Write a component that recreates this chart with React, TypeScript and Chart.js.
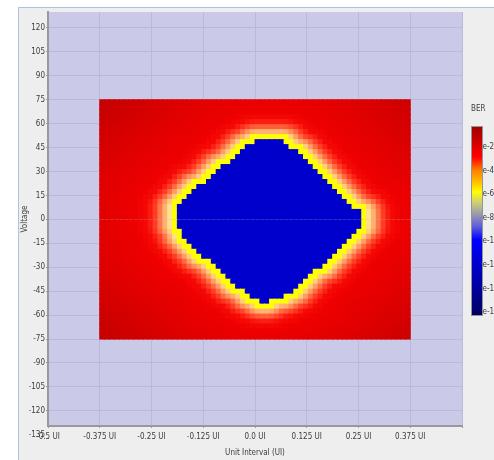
import React, { useEffect, useRef } from 'react';
import { Chart, registerables } from 'chart.js';

Chart.register(...registerables);

// ---- axis ticks ----
const xTickValues = [-0.5, -0.375, -0.25, -0.125, 0, 0.125, 0.25, 0.375, 0.5];
const xTickLabels = ['-0.5 UI', '-0.375 UI', '-0.25 UI', '-0.125 UI', '0.0 UI', '0.125 UI', '0.25 UI', '0.375 UI', ''];
const yTickValues = [120, 105, 90, 75, 60, 45, 30, 15, 0, -15, -30, -45, -60, -75, -90, -105, -120, -135];
const yTickLabels = ['120', '105', '90', '75', '60', '45', '30', '15', '0', '-15', '-30', '-45', '-60', '-75', '-90', '-105', '-120', '-135'];
const berLegendLabels = ['e-2', 'e-4', 'e-6', 'e-8', 'e-10', 'e-12', 'e-14', 'e-16'];

// ---- measurement grid extents ----
const gridUiStart = -0.375;
const gridUiEnd = 0.375;
const gridColumns = 64;
const gridVStart = -75;
const gridVEnd = 75;
const gridRows = 48;

// ---- eye opening (BER below ~1e-10) per column: upper / lower voltage ----
const eyeTopV = [
  null, null, null, null, null, null, null, null, null, null, null, null, null, null, null, null,
  9.5, 12.5, 15.5, 17.8, 20.5, 23, 26, 29, 31, 33, 35.5, 38.5, 41, 43.5, 46, 48,
  50, 51, 51, 50.5, 50, 48.5, 46.5, 45, 42.5, 40, 37, 34, 31, 28, 25, 22,
  19, 15.5, 13, 10, 7.5, 5,
  null, null, null, null, null, null, null, null, null, null,
];
const eyeBottomV = [
  null, null, null, null, null, null, null, null, null, null, null, null, null, null, null, null,
  -7, -11, -14.5, -18, -21.5, -24, -26, -28.5, -31.5, -34.5, -37, -39.5, -42.5, -45, -47, -48.5,
  -51, -52.5, -52, -51.5, -50, -48.5, -47, -45.5, -43, -41, -39, -35, -32.5, -30.5, -27.5, -24.5,
  -23, -20, -16, -12.5, -10, -6,
  null, null, null, null, null, null, null, null, null, null,
];

// ---- styles ----
const FONT = "'Liberation Sans Narrow', 'DejaVu Sans Condensed', 'Liberation Sans', sans-serif";
const TEXT = '#3c3c3c';
const GRID = 'rgb(186,186,216)';
const AXIS = '#98989f';
const PLOT_BG = 'rgb(202,202,232)';
const EYE_BLUE = 'rgb(0,0,205)';
const RING = 'rgb(255,255,0)';
const FADE_STOPS: [number, number, number, number][] = [
  [6.2, 255, 232, 150],
  [9.5, 255, 190, 118],
  [13, 255, 128, 82],
  [17, 255, 60, 36],
  [22, 246, 10, 6],
  [30, 238, 0, 0],
  [60, 224, 0, 0],
  [100, 202, 0, 0],
  [150, 188, 0, 0],
];
const BAR_STOPS: [number, string][] = [
  [0, '#a00000'], [0.105, '#e00000'], [0.16, '#ff0000'], [0.23, '#ff8000'], [0.28, '#ffb000'],
  [0.345, '#ffff00'], [0.4, '#d0d070'], [0.456, '#a0a0a8'], [0.527, '#6060d8'], [0.6, '#0000ff'],
  [0.72, '#0000d0'], [0.855, '#0000a0'], [1, '#000060'],
];

// ---- build the cell table from the data ----
const colW = (gridUiEnd - gridUiStart) / gridColumns;
const rowH = (gridVEnd - gridVStart) / gridRows;
const colUi = Array.from({ length: gridColumns }, (_, c) => gridUiStart + (c + 0.5) * colW);
const rowV = Array.from({ length: gridRows }, (_, r) => gridVStart + (r + 0.5) * rowH);

function isOpen(c: number, r: number) {
  const t = eyeTopV[c];
  const b = eyeBottomV[c];
  return t != null && b != null && rowV[r] <= t && rowV[r] >= b;
}

function fadeColor(d: number) {
  if (d <= FADE_STOPS[0][0]) return RING;
  for (let i = 1; i < FADE_STOPS.length; i++) {
    const [d1, r1, g1, b1] = FADE_STOPS[i];
    const [d0, r0, g0, b0] = FADE_STOPS[i - 1];
    if (d <= d1) {
      const t = (d - d0) / (d1 - d0);
      return `rgb(${Math.round(r0 + (r1 - r0) * t)},${Math.round(g0 + (g1 - g0) * t)},${Math.round(b0 + (b1 - b0) * t)})`;
    }
  }
  const last = FADE_STOPS[FADE_STOPS.length - 1];
  return `rgb(${last[1]},${last[2]},${last[3]})`;
}

function buildDatasets() {
  const open: [number, number][] = [];
  for (let c = 0; c < gridColumns; c++)
    for (let r = 0; r < gridRows; r++) if (isOpen(c, r)) open.push([colUi[c], rowV[r]]);
  const datasets: any[] = [];
  for (let r = 0; r < gridRows; r++) {
    const colors: string[] = [];
    for (let c = 0; c < gridColumns; c++) {
      if (isOpen(c, r)) {
        colors.push(EYE_BLUE);
        continue;
      }
      let best = Infinity;
      for (const [u, v] of open) {
        const dx = (colUi[c] - u) * 290;
        const dy = (rowV[r] - v) * 1.6;
        const d = dx * dx + dy * dy;
        if (d < best) best = d;
      }
      colors.push(fadeColor(Math.sqrt(best)));
    }
    datasets.push({
      type: 'bar',
      data: colUi.map((u) => ({ x: u, y: [rowV[r] - rowH / 2, rowV[r] + rowH / 2] })),
      backgroundColor: colors,
      borderWidth: 0,
      barPercentage: 1,
      categoryPercentage: 1,
      grouped: false,
      inflateAmount: 0.5,
    });
  }
  return datasets;
}

const panelPlugin = {
  id: 'panel',
  beforeDraw(chart: any) {
    const { ctx, width, height, chartArea } = chart;
    ctx.save();
    ctx.fillStyle = '#ffffff';
    ctx.fillRect(0, 0, width, height);
    ctx.fillStyle = '#eeeeee';
    ctx.fillRect(18, 7, width - 18, height - 7);
    ctx.strokeStyle = '#a9c4e4';
    ctx.lineWidth = 1;
    ctx.beginPath();
    ctx.moveTo(18.5, height);
    ctx.lineTo(18.5, 7.5);
    ctx.lineTo(width, 7.5);
    ctx.stroke();
    ctx.fillStyle = PLOT_BG;
    ctx.fillRect(chartArea.left, chartArea.top, chartArea.right - chartArea.left, chartArea.bottom - chartArea.top);
    ctx.restore();
  },
  afterDraw(chart: any) {
    const { ctx } = chart;
    const x0 = 472, x1 = 482, y0 = 127, y1 = 315;
    ctx.save();
    const g = ctx.createLinearGradient(0, y0, 0, y1);
    for (const [p, col] of BAR_STOPS) g.addColorStop(p, col);
    ctx.fillStyle = g;
    ctx.fillRect(x0, y0, x1 - x0, y1 - y0);
    ctx.strokeStyle = 'rgba(90,90,90,0.6)';
    ctx.lineWidth = 1;
    ctx.strokeRect(x0 - 0.5, y0 - 0.5, x1 - x0 + 1, y1 - y0 + 1);
    ctx.fillStyle = TEXT;
    ctx.font = `8px ${FONT}`;
    ctx.textAlign = 'left';
    ctx.textBaseline = 'middle';
    ctx.fillText('BER', 471, 109);
    berLegendLabels.forEach((lab, i) => {
      ctx.fillText(lab, 482.5, 147 + i * 23.6);
    });
    ctx.restore();
  },
};

export default function App() {
  const ref = useRef<HTMLCanvasElement | null>(null);
  useEffect(() => {
    if (!ref.current) return;
    const font = { family: FONT, size: 8 };
    const hideOutside = (c: any) => (c.tick && c.tick.value === -135 ? 'rgba(0,0,0,0)' : GRID);
    const hideOutsideTick = (c: any) => (c.tick && c.tick.value === -135 ? 'rgba(0,0,0,0)' : AXIS);
    const chart = new Chart(ref.current, {
      type: 'bar',
      data: { datasets: buildDatasets() },
      options: {
        animation: false,
        responsive: false,
        devicePixelRatio: 1,
        events: [],
        layout: { padding: { left: 18, top: 12, right: 32, bottom: 0 } },
        plugins: { legend: { display: false }, tooltip: { enabled: false }, title: { display: false } },
        scales: {
          x: {
            type: 'linear',
            min: -0.5,
            max: 0.5,
            offset: false,
            grid: { offset: false, color: GRID, tickColor: AXIS, tickLength: 2, lineWidth: 1 },
            border: { color: AXIS, width: 2 },
            ticks: {
              autoSkip: false,
              maxRotation: 0,
              padding: 4,
              font,
              color: TEXT,
              callback: (_v: any, i: number) => xTickLabels[i],
            },
            afterBuildTicks: (axis: any) => {
              axis.ticks = xTickValues.map((value) => ({ value }));
            },
            afterFit: (axis: any) => {
              axis.height = 34;
            },
            title: { display: true, text: 'Unit Interval (UI)', font, color: TEXT, padding: { top: 0, bottom: 2 } },
          },
          y: {
            type: 'linear',
            min: -129.5,
            max: 130,
            grid: { color: hideOutside, tickColor: hideOutsideTick, tickLength: 2, lineWidth: 1 },
            border: { color: AXIS, width: 2 },
            ticks: {
              autoSkip: false,
              padding: 1,
              font,
              color: TEXT,
              callback: (_v: any, i: number) => yTickLabels[i],
            },
            afterBuildTicks: (axis: any) => {
              axis.ticks = yTickValues.map((value) => ({ value }));
            },
            afterFit: (axis: any) => {
              axis.width = 30;
            },
            title: { display: true, text: 'Voltage', font, color: TEXT, padding: { top: 2, bottom: 0 } },
          },
        },
      } as any,
      plugins: [panelPlugin],
    });
    return () => chart.destroy();
  }, []);
  return (
    <div style={{ position: 'fixed', left: 0, top: 0, width: 494, height: 460 }}>
      <canvas ref={ref} width={494} height={460} style={{ display: 'block' }} />
    </div>
  );
}
